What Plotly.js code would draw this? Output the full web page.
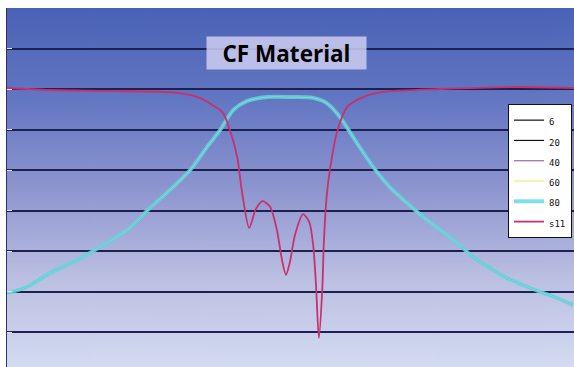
<!DOCTYPE html>
<html>
<head>
<meta charset="utf-8">
<script src="https://cdn.plot.ly/plotly-3.0.1.min.js"></script>
<style>html,body{margin:0;padding:0;background:#fff;}#chart{width:574px;height:367px;}</style>
</head>
<body>
<div id="chart"></div>
<script>
// Transmission curve (shared by the overlapping series), x in arbitrary frequency units, y in dB
const transX = [0, 3.5, 7.6, 12.4, 16.4, 21.2, 25.2, 29.3, 32.3, 35.3, 37.6, 39.9, 42.3, 45.9, 49.9, 54.0, 56.4, 58.7, 61.7, 64.6, 67.5, 70.5, 73.4, 76.4, 79.4, 82.2, 85.2, 88.2, 91.0, 94.0, 97.0, 99.8];
const transY = [-70.4, -68.9, -65.4, -62.2, -59.0, -54.8, -49.4, -44.2, -40.0, -34.3, -30.1, -25.2, -23.0, -22.0, -22.0, -22.2, -23.5, -26.9, -33.3, -39.3, -44.2, -48.1, -51.6, -54.8, -58.0, -61.5, -64.2, -66.7, -68.4, -70.1, -71.6, -73.3];
// Reflection s11
const s11X = [0, 7.6, 19.9, 30.5, 34.0, 36.3, 38.1, 39.3, 40.6, 41.4, 42.7, 43.9, 45.1, 46.4, 47.6, 48.5, 49.2, 49.9, 50.8, 52.2, 53.3, 54.0, 54.5, 55.0, 55.6, 55.9, 56.4, 57.0, 58.2, 60.0, 62.8, 66.3, 76.4, 90.0, 100];
const s11Y = [-19.75, -20.25, -20.5, -21.0, -22.2, -24.0, -25.9, -30.1, -36.8, -45.0, -54.3, -49.6, -47.7, -49.1, -54.8, -62.2, -65.9, -62.7, -56.0, -50.9, -52.8, -58.5, -68.4, -81.5, -69.6, -57.3, -46.2, -39.5, -30.6, -24.4, -22.0, -20.7, -20.0, -19.5, -19.75];
const seriesNames = ["6", "20", "40", "60", "80", "s11"];
const seriesColors = ["#111111", "#111111", "#9a6aa8", "#eeee7a", "#5fd6e6", "#c8306e"];

// gradient background image
const cv = document.createElement('canvas');
cv.width = 10; cv.height = 360;
const cx = cv.getContext('2d');
const g = cx.createLinearGradient(0, 0, 0, 360);
g.addColorStop(0, '#4a62b6');
g.addColorStop(0.25, '#6276c2');
g.addColorStop(0.5, '#8d95cf');
g.addColorStop(0.75, '#bbbfe2');
g.addColorStop(1, '#d3dbf1');
cx.fillStyle = g; cx.fillRect(0, 0, 10, 360);
const bgURI = cv.toDataURL('image/png');

const traces = [];
for (let i = 0; i < 5; i++) {
  const isCyan = i === 4;
  traces.push({
    type: 'scatter', mode: 'lines', name: `<span style="font-size:9px">${seriesNames[i]}</span>`,
    x: transX, y: transY,
    line: {color: seriesColors[i], width: isCyan ? 4 : 1.2, shape: 'spline', smoothing: 0.8},
    opacity: isCyan ? 0.8 : 1
  });
}
traces.push({
  type: 'scatter', mode: 'lines', name: `<span style="font-size:9px">${seriesNames[5]}</span>`,
  x: s11X, y: s11Y,
  line: {color: seriesColors[5], width: 1.8, shape: 'spline', smoothing: 0.7}
});

const layout = {
  width: 574, height: 367,
  margin: {l: 7, r: 0, t: 8, b: 0, pad: 0},
  paper_bgcolor: '#ffffff',
  plot_bgcolor: 'rgba(0,0,0,0)',
  images: [{source: bgURI, xref: 'paper', yref: 'paper', x: 0, y: 1, sizex: 1, sizey: 1,
            sizing: 'stretch', xanchor: 'left', yanchor: 'top', layer: 'below'}],
  xaxis: {range: [0, 100], showgrid: false, zeroline: false, showticklabels: false, ticks: '', showline: false, automargin: false},
  yaxis: {range: [-88.64, 0], dtick: 10, showgrid: true, gridcolor: '#1d2050', gridwidth: 2, zeroline: false,
          showticklabels: false, ticks: 'inside', ticklen: 5, tickcolor: '#dfe2f2',
          showline: true, linecolor: '#2c3166', linewidth: 1, automargin: false},
  showlegend: true,
  legend: {x: 0.8836, y: 0.7326, xanchor: 'left', yanchor: 'top', bgcolor: '#ffffff', bordercolor: '#111111', borderwidth: 1,
           font: {family: 'DejaVu Sans Mono', size: 13.3, color: '#111'}, tracegroupgap: 0},
  annotations: [{
    text: 'CF Material', xref: 'paper', yref: 'paper', x: 0.493, y: 0.8747, xanchor: 'center', yanchor: 'middle',
    showarrow: false, width: 159, height: 32, borderpad: 0, bgcolor: 'rgba(206,206,240,0.85)',
    font: {family: 'Open Sans', size: 22.5, weight: 700, color: '#000000'}
  }]
};
Plotly.newPlot('chart', traces, layout, {displayModeBar: false, staticPlot: true});
</script>
</body>
</html>
